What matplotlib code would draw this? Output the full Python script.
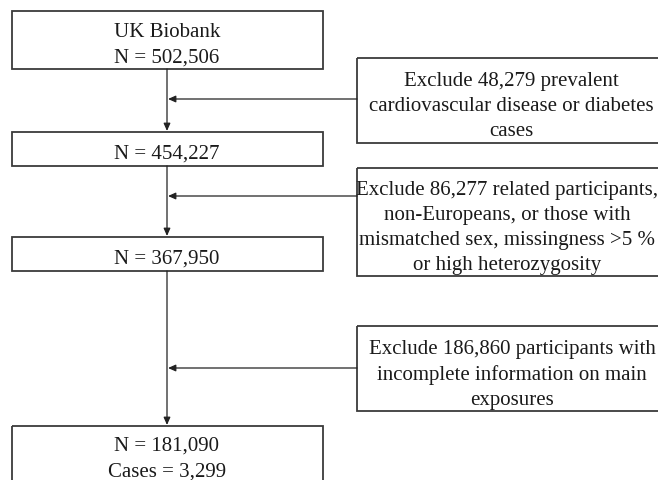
import matplotlib
matplotlib.use("Agg")
import matplotlib.pyplot as plt
from matplotlib.patches import Rectangle

# ---- data (texts of the flowchart) ----
main_steps = [
    "UK Biobank\nN = 502,506",
    "N = 454,227",
    "N = 367,950",
    "N = 181,090\nCases = 3,299",
]
exclusions = [
    "Exclude 48,279 prevalent\ncardiovascular disease or diabetes\ncases",
    "Exclude 86,277 related participants,\nnon-Europeans, or those with\nmismatched sex, missingness >5 %\nor high heterozygosity",
    "Exclude 186,860 participants with\nincomplete information on main\nexposures",
]

# ---- layout (pixel coordinates) ----
W, H = 658, 481
fig = plt.figure(figsize=(W / 100, H / 100), dpi=100)
ax = fig.add_axes([0, 0, 1, 1])
ax.set_xlim(0, W)
ax.set_ylim(H, 0)
ax.axis("off")

FONT = "Liberation Serif"
FS = 15.0
LS = 1.45
TXT = "#1a1a1a"
EDGE = "#3a3a3a"

main_x0, main_x1 = 12, 323
cx = 167
main_boxes = [(12, 70), (133, 167), (238, 272), (427, 500)]
main_text_y = [45, 154.5, 259.5, 459]

excl_x0 = 357
excl_boxes = [(59, 144), (169, 277), (327, 412)]
excl_text_x = [511, 507, 512]
excl_text_y = [106.5, 228, 375]
arrow_y = [100, 197, 369]

for (y0, y1), ty, txt in zip(main_boxes, main_text_y, main_steps):
    ax.add_patch(Rectangle((main_x0, y0), main_x1 - main_x0, y1 - y0,
                           fill=False, ec=EDGE, lw=1.3, clip_on=True))
    ax.text(cx, ty, txt, ha="center", va="center", fontsize=FS,
            family=FONT, color=TXT, linespacing=LS)

for (y0, y1), tx, ty, txt in zip(excl_boxes, excl_text_x, excl_text_y, exclusions):
    ax.add_patch(Rectangle((excl_x0, y0), 320, y1 - y0,
                           fill=False, ec=EDGE, lw=1.3, clip_on=True))
    ax.text(tx, ty, txt, ha="center", va="center", fontsize=FS,
            family=FONT, color=TXT, linespacing=LS)

aprops = dict(arrowstyle="-|>,head_length=0.45,head_width=0.2",
              color="#222222", lw=0.9, shrinkA=0, shrinkB=0)

# vertical arrows between main boxes
for i in range(len(main_boxes) - 1):
    y_start = main_boxes[i][1]
    y_end = main_boxes[i + 1][0]
    ax.annotate("", xy=(cx, y_end - 1), xytext=(cx, y_start),
                arrowprops=aprops)

# horizontal arrows from exclusion boxes
for ay in arrow_y:
    ax.annotate("", xy=(cx + 1, ay), xytext=(excl_x0, ay),
                arrowprops=aprops)

fig.savefig("out.png", dpi=100, facecolor="white")
